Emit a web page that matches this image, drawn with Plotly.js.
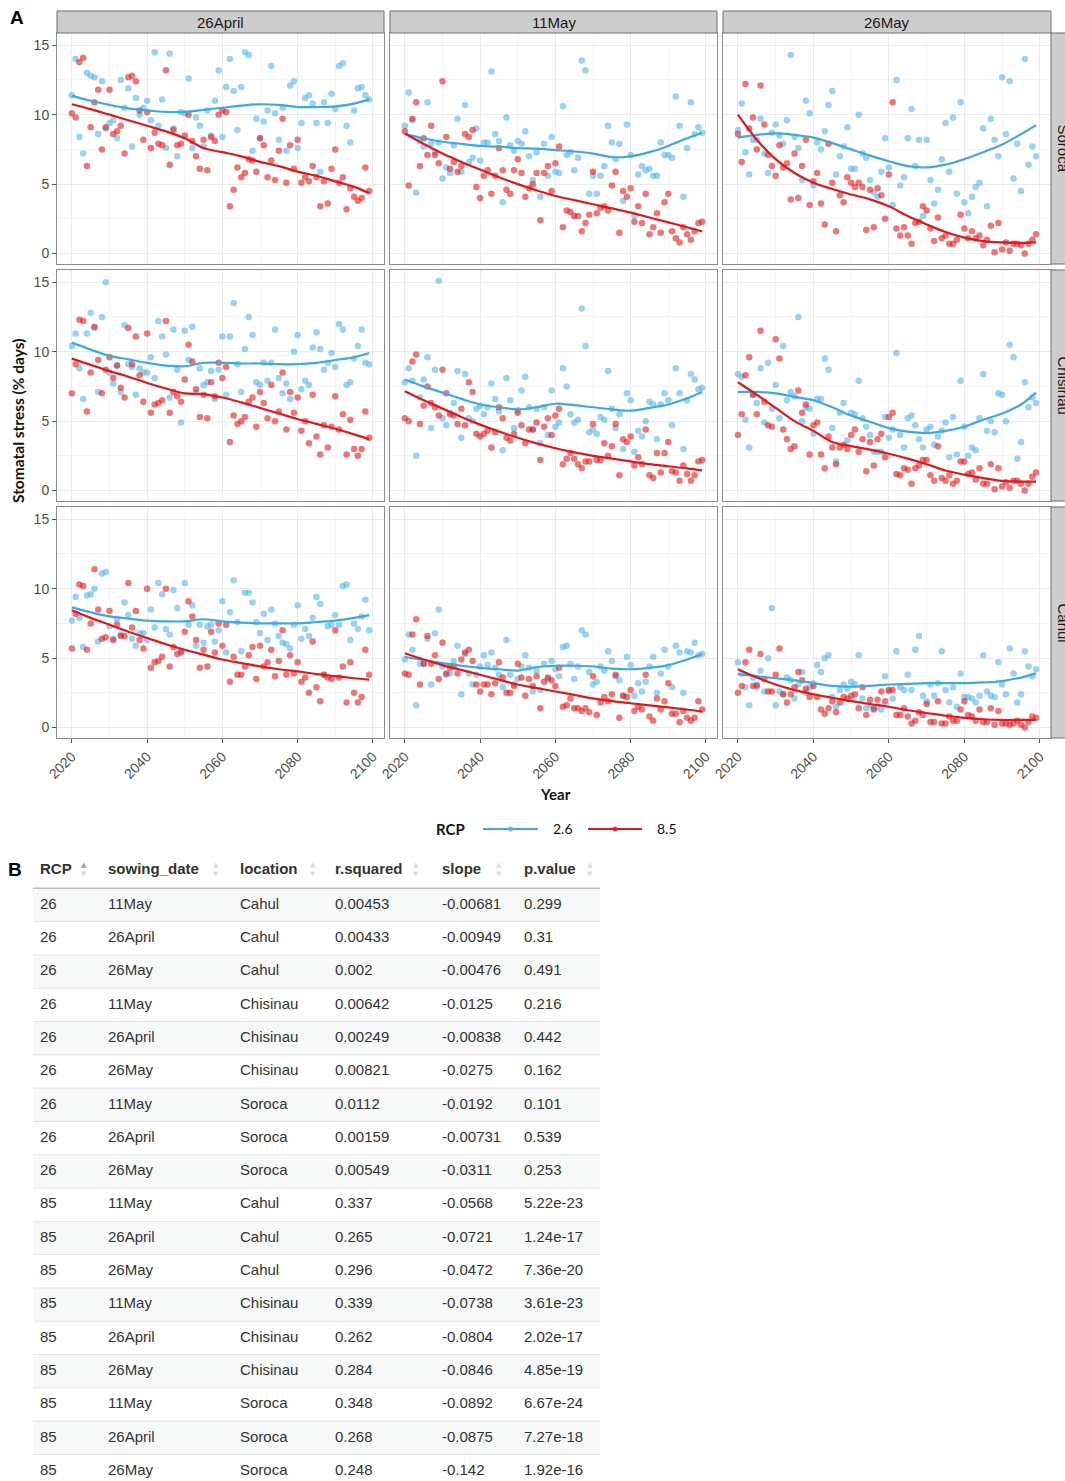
<!DOCTYPE html>
<html><head><meta charset="utf-8">
<script src="https://cdn.plot.ly/plotly-3.0.1.min.js"></script>
<style>body{margin:0;padding:0;background:#fff}#chart{width:1065px;height:1481px}</style>
</head><body><div id="chart"></div>
<script>
// ---------------- DATA ----------------
const years = [2020,2021,2022,2023,2024,2025,2026,2027,2028,2029,2030,2031,2032,2033,2034,2035,2036,2037,2038,2039,
2040,2041,2042,2043,2044,2045,2046,2047,2048,2049,2050,2051,2052,2053,2054,2055,2056,2057,2058,2059,
2060,2061,2062,2063,2064,2065,2066,2067,2068,2069,2070,2071,2072,2073,2074,2075,2076,2077,2078,2079,
2080,2081,2082,2083,2084,2085,2086,2087,2088,2089,2090,2091,2092,2093,2094,2095,2096,2097,2098,2099];
const smoothYears = [2020,2025,2030,2035,2040,2045,2050,2055,2060,2065,2070,2075,2080,2085,2090,2095,2099];
const sowingDates = ['26April','11May','26May'];
const locations = ['Soroca','Chisinau','Cahul'];
const rcpLabels = ['2.6','8.5'];

// Soroca
const soroca_26April_rcp26 = [11.4,14.0,8.4,7.2,13.0,12.8,12.7,8.6,12.4,9.0,9.4,9.6,8.3,12.5,10.5,11.9,7.7,11.2,10.0,10.5,
11.0,9.6,14.5,9.2,11.1,7.6,14.4,9.0,7.0,10.2,10.1,12.6,7.6,9.8,9.2,7.7,10.3,8.5,11.0,13.2,
8.4,12.0,14.0,11.7,8.9,12.0,14.5,14.3,7.4,9.7,8.3,9.5,10.3,13.5,10.1,8.2,10.5,7.4,12.1,12.4,
7.6,9.4,11.2,11.4,10.8,9.4,5.9,10.9,9.4,11.5,10.4,13.5,13.7,9.2,8.0,10.3,11.9,12.0,11.4,11.1];
const soroca_26April_rcp85 = [10.1,9.8,13.8,14.1,6.3,9.1,10.9,11.8,7.5,9.1,11.8,8.6,8.8,9.2,7.2,12.7,12.8,12.4,10.3,8.2,
10.2,7.6,8.7,7.9,7.8,13.2,6.4,8.9,7.8,7.9,8.5,10.0,8.1,7.0,6.1,8.2,6.0,8.4,8.1,10.0,
10.3,10.2,3.4,4.6,6.2,5.5,5.8,6.8,6.7,5.9,8.3,7.8,5.5,6.7,5.3,7.4,9.7,5.1,7.8,6.1,
8.2,5.1,5.5,5.2,6.3,5.5,3.4,5.2,3.6,6.1,7.5,5.1,5.5,3.2,4.7,4.1,3.8,4.0,6.2,4.5];
const soroca_11May_rcp26 = [9.2,11.6,9.6,4.4,8.1,7.7,10.9,7.9,7.3,8.0,5.4,6.2,5.8,7.8,9.7,5.9,10.7,6.6,6.9,9.0,
6.7,8.0,8.0,13.1,8.6,8.1,3.7,9.8,7.8,7.4,8.1,7.9,8.8,7.0,5.3,7.3,4.1,7.9,5.6,8.4,
5.9,5.8,10.6,7.1,7.3,6.0,6.9,13.9,13.2,4.3,5.6,4.3,5.6,6.3,9.2,8.0,6.8,7.9,3.8,9.3,
7.1,2.7,5.7,6.3,6.0,6.1,5.6,5.6,8.0,7.1,7.1,6.9,11.3,9.2,4.1,7.6,10.9,8.6,9.1,8.7];
const soroca_11May_rcp85 = [8.8,4.9,9.7,10.9,6.3,8.3,7.1,9.2,7.1,6.5,12.4,8.4,6.1,6.6,5.9,6.3,8.6,8.4,8.9,4.8,
4.0,5.6,6.0,4.3,5.6,7.6,6.0,4.6,4.3,6.0,6.8,5.8,4.1,4.7,5.0,5.8,2.4,5.8,6.3,4.5,
6.5,7.7,1.9,3.1,3.0,2.7,2.7,1.6,2.2,2.8,5.9,2.9,3.3,3.4,3.1,4.9,5.9,1.5,4.5,4.1,
4.7,2.3,3.4,2.2,4.3,1.4,1.9,2.9,1.5,3.7,4.3,1.6,1.1,0.8,1.9,1.4,1.0,1.6,2.2,2.3];
const soroca_26May_rcp26 = [8.9,10.8,7.3,5.7,8.2,8.2,9.7,7.2,5.8,8.7,9.3,8.5,7.9,9.6,14.3,8.4,7.6,5.3,11.0,10.1,
4.9,8.0,7.5,8.8,10.7,11.7,5.7,7.0,7.7,9.1,6.1,6.1,10.0,7.2,6.9,5.3,4.4,4.1,5.9,8.3,
6.2,3.5,12.5,4.9,5.5,8.3,10.4,6.3,8.2,2.7,8.2,5.3,3.6,4.6,6.8,9.4,5.9,9.8,4.3,10.9,
3.7,2.9,4.1,4.8,5.1,9.0,3.4,9.7,8.2,7.0,12.7,8.6,12.4,5.4,7.9,4.5,14.0,6.4,7.7,7.0];
const soroca_26May_rcp85 = [8.6,6.6,12.2,9.0,9.8,7.5,12.1,9.3,7.1,6.3,5.6,7.8,6.2,6.5,3.9,7.2,4.0,6.3,8.2,3.5,
5.2,5.8,3.6,2.1,7.9,5.1,1.6,4.2,3.7,5.5,5.1,4.8,5.1,4.8,1.7,4.6,1.9,4.7,4.2,2.5,
5.7,10.9,1.8,1.3,1.9,1.3,0.7,2.2,2.3,3.4,3.1,1.8,0.9,2.6,1.1,1.3,0.7,0.7,1.0,2.8,
1.8,1.1,1.6,1.1,1.3,0.6,1.0,2.0,0.1,2.2,0.3,0.8,0.2,0.7,0.7,0.6,0.0,0.7,1.0,1.4];
// Chisinau
const chisinau_26April_rcp26 = [10.4,11.3,8.8,6.6,11.3,12.8,11.7,7.1,12.5,15.0,8.5,7.7,9.0,7.1,11.9,9.1,8.9,6.9,8.8,8.5,
8.5,9.6,8.1,12.2,11.1,9.8,6.7,11.6,8.7,4.9,11.5,9.4,11.8,7.0,8.8,7.6,7.8,8.6,6.6,8.7,
11.1,6.9,11.1,13.5,9.1,7.1,10.2,12.5,11.2,7.8,7.6,9.2,7.9,9.2,11.6,8.1,7.0,7.7,6.6,10.0,
11.2,7.3,7.9,7.6,10.3,11.4,10.2,8.7,9.2,9.9,8.9,12.0,11.6,7.6,7.8,9.5,10.4,11.6,9.2,9.1];
const chisinau_26April_rcp85 = [7.0,9.1,12.3,12.2,5.7,8.5,11.8,9.4,7.0,8.7,9.6,8.1,9.0,7.4,6.7,11.7,9.1,11.1,8.3,6.4,
11.3,5.6,6.2,6.3,6.5,12.2,5.6,7.1,6.8,6.4,8.0,10.5,9.3,7.3,5.3,6.9,5.2,7.8,6.8,9.2,
8.1,8.9,3.5,5.4,4.8,5.0,5.3,6.4,6.7,4.6,7.1,6.3,5.2,7.6,5.0,5.7,8.5,4.4,7.1,5.6,
6.7,4.3,5.0,3.4,6.9,3.9,2.6,4.7,3.1,4.6,6.8,4.4,5.5,2.6,5.1,3.0,2.5,3.0,5.7,3.8];
const chisinau_11May_rcp26 = [7.8,8.8,7.9,2.5,6.7,8.0,9.6,4.5,8.7,15.1,5.2,4.7,5.6,6.3,8.6,3.8,8.4,5.2,5.0,5.9,
6.1,5.5,6.0,7.7,6.6,5.7,2.9,8.1,6.5,4.5,5.8,7.2,8.2,6.0,4.4,5.9,3.4,6.0,4.0,7.2,
4.6,4.9,8.8,7.5,5.5,4.9,5.1,13.1,10.4,4.2,4.4,4.1,5.3,5.1,8.6,5.9,4.5,5.5,3.0,7.0,
6.5,2.8,4.3,3.9,5.0,6.4,6.2,3.7,6.2,7.0,6.5,4.7,8.8,7.0,3.0,6.5,8.4,8.0,7.3,7.4];
const chisinau_11May_rcp85 = [5.2,5.0,9.3,9.8,4.8,6.1,7.5,6.3,6.0,5.4,8.7,7.0,5.5,5.4,4.8,5.9,4.7,7.8,7.1,4.1,
3.9,4.1,4.3,3.1,4.2,6.0,5.2,3.8,3.6,4.1,5.6,4.7,3.4,4.4,4.4,4.9,2.2,4.6,5.2,4.0,
5.4,5.9,1.9,2.3,2.7,2.3,1.9,1.6,2.1,2.1,4.8,2.2,2.2,3.4,2.5,3.2,4.8,1.1,3.7,3.5,
3.9,1.8,2.4,1.9,4.4,1.1,0.9,2.7,1.3,2.7,3.5,1.4,1.3,0.7,1.8,1.2,0.7,1.1,2.1,2.2];
const chisinau_26May_rcp26 = [8.4,8.2,5.1,3.1,6.9,6.3,8.8,4.9,9.2,5.9,7.6,5.2,10.4,6.5,7.1,6.8,12.5,5.0,6.0,5.9,
4.1,6.6,6.6,9.5,8.7,4.5,2.1,5.6,6.3,3.6,5.6,5.5,7.9,5.2,4.6,4.0,2.8,2.8,2.8,5.3,
3.8,4.4,9.9,4.0,3.1,5.2,5.4,4.7,3.7,3.1,4.4,4.6,3.3,3.9,4.3,4.9,2.4,5.3,2.6,7.9,
4.6,2.5,3.1,2.9,5.2,8.4,4.3,5.0,4.2,7.0,6.9,5.0,10.5,9.6,2.3,3.5,7.8,6.0,6.7,6.3];
const chisinau_26May_rcp85 = [4.0,5.5,8.3,9.6,6.9,5.5,11.5,6.4,4.7,4.6,10.9,9.5,4.4,3.7,3.0,3.2,7.2,5.6,6.2,2.6,
4.7,4.9,2.6,1.6,3.9,3.1,1.9,3.1,3.3,3.0,4.0,4.4,2.8,3.7,1.4,3.5,1.8,3.7,4.1,2.4,
5.3,5.6,1.2,1.1,1.6,1.5,0.5,1.6,1.8,2.2,2.2,1.1,0.7,3.2,0.9,0.7,1.1,0.5,0.7,2.1,
2.1,1.2,1.3,0.8,1.6,0.5,0.5,1.9,0.1,1.6,0.3,0.6,0.2,0.7,0.7,0.5,0.0,0.5,1.0,1.3];
// Cahul
const cahul_26April_rcp26 = [7.7,9.4,7.9,5.8,9.5,9.6,10.0,6.2,11.1,11.2,7.3,6.4,7.8,6.7,9.0,8.1,6.4,5.9,6.8,6.8,
6.3,8.5,7.2,10.4,9.6,7.1,6.7,9.9,8.6,5.5,10.4,7.4,8.8,5.9,7.4,6.1,7.3,7.4,6.2,7.0,
9.1,5.4,8.3,10.6,7.6,5.5,9.7,9.7,9.0,7.6,6.8,8.2,6.3,8.5,7.5,6.6,6.1,6.0,5.7,7.4,
8.8,6.4,7.1,6.6,7.9,9.4,8.9,3.8,7.3,7.4,8.1,7.4,10.2,10.3,6.3,7.5,7.1,8.0,9.2,7.0];
const cahul_26April_rcp85 = [5.7,8.2,10.3,10.2,5.6,7.5,11.4,8.5,6.4,6.5,8.4,6.3,7.4,6.6,6.6,10.4,7.2,8.4,6.3,5.7,
10.0,4.3,4.7,4.8,5.1,10.0,4.4,5.8,5.3,5.4,6.9,9.1,8.0,6.3,4.3,5.6,4.4,6.9,5.4,7.5,
5.9,7.4,3.3,5.1,3.8,3.8,4.4,5.2,5.8,3.5,5.9,4.4,4.7,5.6,3.7,4.8,7.0,3.8,5.2,3.9,
4.7,3.3,3.6,2.5,6.2,2.9,1.9,3.8,3.6,3.5,7.0,3.6,4.4,1.8,4.7,2.5,1.8,2.2,5.6,3.8];
const cahul_11May_rcp26 = [4.9,6.7,5.6,1.6,4.6,4.6,6.4,3.1,6.8,8.5,4.4,3.8,3.9,4.8,5.9,2.4,5.3,3.9,3.1,3.8,
4.4,5.2,4.5,5.4,4.3,3.8,2.9,6.3,3.8,3.1,3.5,4.4,5.2,4.3,2.6,4.1,2.7,4.6,3.5,4.8,
4.2,3.7,5.8,5.9,4.6,3.5,4.4,7.0,6.7,4.0,3.1,3.3,4.4,4.1,5.5,4.8,3.7,3.4,2.3,5.1,
4.5,2.3,3.2,2.6,3.3,4.4,5.1,2.5,3.9,5.6,4.4,2.9,5.9,5.4,2.5,5.5,5.4,6.1,5.2,5.3];
const cahul_11May_rcp85 = [3.9,3.8,6.7,7.8,3.1,4.6,6.6,4.6,5.2,3.5,6.1,3.9,4.3,4.4,3.9,4.9,5.4,5.6,4.8,3.1,
2.6,3.1,3.1,2.4,3.2,4.7,3.6,2.5,2.5,3.0,4.6,3.6,2.3,3.5,3.0,3.7,1.4,3.3,3.6,3.4,
3.0,4.3,1.5,1.6,2.1,1.4,1.4,1.2,1.4,1.1,3.7,0.9,1.8,2.2,1.9,2.4,3.8,0.7,2.3,2.2,
2.7,1.2,1.5,1.3,3.8,0.8,0.5,2.1,1.3,1.9,3.2,1.0,1.0,0.4,1.2,0.7,0.5,0.7,1.9,1.3];
const cahul_26May_rcp26 = [4.7,3.9,2.9,1.6,3.6,3.1,4.1,2.6,5.0,8.6,1.6,2.6,2.4,3.6,3.4,2.1,3.1,4.0,2.5,2.9,
3.2,4.5,4.0,5.0,5.2,2.2,1.5,2.7,3.1,2.8,3.3,3.1,5.2,2.1,1.4,1.6,1.4,1.5,1.3,3.7,
2.6,2.1,5.5,2.9,2.7,3.8,2.7,5.6,6.6,2.3,1.9,3.1,2.3,3.2,5.5,2.7,1.8,2.9,1.5,3.9,
2.2,2.2,2.1,1.8,2.3,5.2,2.6,2.3,2.2,4.7,3.1,2.4,5.7,3.9,1.8,2.4,5.5,4.4,3.7,4.2];
const cahul_26May_rcp85 = [2.5,3.0,4.7,5.6,3.0,3.0,5.3,3.5,2.6,2.6,3.8,5.7,2.4,1.8,2.4,2.9,4.0,3.4,2.8,2.2,
3.0,2.2,1.3,1.0,1.4,1.9,1.1,1.8,2.2,2.1,2.3,2.4,1.4,2.9,0.9,2.0,1.3,2.0,2.6,1.9,
2.7,2.7,0.9,0.9,1.4,0.8,0.3,0.5,1.1,0.9,1.7,0.4,0.4,1.9,0.3,0.3,0.8,0.5,0.5,1.3,
1.9,0.9,0.8,0.5,1.3,0.4,0.4,1.4,0.2,1.2,0.3,0.3,0.2,0.3,0.5,0.2,0.0,0.4,0.8,0.7];

// Smoothed (loess) curves read at smoothYears
const soroca_26April_fit26 = [11.35,11.0,10.7,10.45,10.3,10.2,10.2,10.35,10.5,10.65,10.75,10.7,10.55,10.55,10.6,10.8,11.1];
const soroca_26April_fit85 = [10.75,10.4,10.0,9.6,9.2,8.8,8.3,7.6,7.3,7.0,6.6,6.3,5.9,5.6,5.2,4.8,4.35];
const soroca_11May_fit26 = [8.6,8.3,8.05,7.9,7.75,7.7,7.6,7.55,7.45,7.35,7.2,6.95,7.0,7.3,7.75,8.3,8.7];
const soroca_11May_fit85 = [8.65,7.9,7.2,6.6,6.05,5.5,5.0,4.55,4.15,3.85,3.55,3.25,2.95,2.6,2.25,1.9,1.6];
const soroca_26May_fit26 = [8.35,8.55,8.65,8.55,8.35,7.95,7.5,7.05,6.65,6.3,6.2,6.4,6.8,7.3,7.85,8.6,9.25];
const soroca_26May_fit85 = [10.0,8.2,6.8,5.8,5.1,4.65,4.25,3.9,3.4,2.7,2.1,1.55,1.15,0.9,0.8,0.77,0.8];
const chisinau_26April_fit26 = [10.65,10.15,9.7,9.45,9.2,9.0,8.95,9.2,9.2,9.15,9.15,9.1,9.1,9.2,9.4,9.6,9.9];
const chisinau_26April_fit85 = [9.5,9.05,8.6,8.2,7.75,7.35,7.0,6.95,6.7,6.35,5.95,5.55,5.15,4.8,4.45,4.05,3.7];
const chisinau_11May_fit26 = [8.0,7.5,7.05,6.6,6.2,6.0,5.85,6.0,6.25,6.15,6.0,5.85,5.75,5.95,6.2,6.65,7.1];
const chisinau_11May_fit85 = [7.15,6.5,5.9,5.3,4.75,4.25,3.8,3.4,3.05,2.75,2.5,2.3,2.1,1.9,1.75,1.6,1.45];
const chisinau_26May_fit26 = [7.1,7.1,7.0,6.75,6.5,6.0,5.4,4.95,4.5,4.25,4.15,4.3,4.6,5.1,5.55,6.2,7.05];
const chisinau_26May_fit85 = [7.8,6.9,5.95,5.0,4.3,3.5,3.2,2.95,2.65,2.3,1.9,1.45,1.15,0.9,0.7,0.65,0.65];
const cahul_26April_fit26 = [8.65,8.3,8.0,7.85,7.7,7.65,7.65,7.8,7.65,7.55,7.5,7.5,7.5,7.6,7.7,7.9,8.1];
const cahul_26April_fit85 = [8.45,7.9,7.4,6.9,6.45,6.0,5.6,5.25,4.9,4.65,4.4,4.2,4.05,3.85,3.7,3.55,3.45];
const cahul_11May_fit26 = [5.1,4.85,4.65,4.45,4.3,4.2,4.1,4.35,4.45,4.45,4.4,4.25,4.2,4.3,4.5,4.9,5.3];
const cahul_11May_fit85 = [5.35,4.9,4.5,4.15,3.8,3.45,3.1,2.85,2.6,2.35,2.1,1.9,1.75,1.6,1.45,1.3,1.15];
const cahul_26May_fit26 = [3.85,3.7,3.55,3.4,3.2,3.0,2.95,3.0,3.1,3.15,3.2,3.2,3.2,3.25,3.35,3.6,3.9];
const cahul_26May_fit85 = [4.2,3.6,3.1,2.7,2.4,2.15,1.9,1.7,1.5,1.25,1.05,0.85,0.7,0.6,0.55,0.55,0.55];

// Table (panel B)
const tblHeaders = ['RCP','sowing_date','location','r.squared','slope','p.value'];
const tblRCP = ['26','26','26','26','26','26','26','26','26','85','85','85','85','85','85','85','85','85'];
const tblSowing = ['11May','26April','26May','11May','26April','26May','11May','26April','26May','11May','26April','26May','11May','26April','26May','11May','26April','26May'];
const tblLocation = ['Cahul','Cahul','Cahul','Chisinau','Chisinau','Chisinau','Soroca','Soroca','Soroca','Cahul','Cahul','Cahul','Chisinau','Chisinau','Chisinau','Soroca','Soroca','Soroca'];
const tblRsq = ['0.00453','0.00433','0.002','0.00642','0.00249','0.00821','0.0112','0.00159','0.00549','0.337','0.265','0.296','0.339','0.262','0.284','0.348','0.268','0.248'];
const tblSlope = ['-0.00681','-0.00949','-0.00476','-0.0125','-0.00838','-0.0275','-0.0192','-0.00731','-0.0311','-0.0568','-0.0721','-0.0472','-0.0738','-0.0804','-0.0846','-0.0892','-0.0875','-0.142'];
const tblP = ['0.299','0.31','0.491','0.216','0.442','0.162','0.101','0.539','0.253','5.22e-23','1.24e-17','7.36e-20','3.61e-23','2.02e-17','4.85e-19','6.67e-24','7.27e-18','1.92e-16'];

// ---------------- LAYOUT / DRAWING ----------------
const W = 1065, H = 1481;
const colPx = [[57,384],[390,717],[723,1051]];
const rowPx = [[33,264],[270,501],[507,738]];
const fy = p => 1 - p / H;
const fx = p => p / W;

const panelData = [
  [[soroca_26April_rcp26,soroca_26April_rcp85,soroca_26April_fit26,soroca_26April_fit85],
   [soroca_11May_rcp26,soroca_11May_rcp85,soroca_11May_fit26,soroca_11May_fit85],
   [soroca_26May_rcp26,soroca_26May_rcp85,soroca_26May_fit26,soroca_26May_fit85]],
  [[chisinau_26April_rcp26,chisinau_26April_rcp85,chisinau_26April_fit26,chisinau_26April_fit85],
   [chisinau_11May_rcp26,chisinau_11May_rcp85,chisinau_11May_fit26,chisinau_11May_fit85],
   [chisinau_26May_rcp26,chisinau_26May_rcp85,chisinau_26May_fit26,chisinau_26May_fit85]],
  [[cahul_26April_rcp26,cahul_26April_rcp85,cahul_26April_fit26,cahul_26April_fit85],
   [cahul_11May_rcp26,cahul_11May_rcp85,cahul_11May_fit26,cahul_11May_fit85],
   [cahul_26May_rcp26,cahul_26May_rcp85,cahul_26May_fit26,cahul_26May_fit85]]
];

const BLUE_PT = 'rgba(86,180,233,0.6)', RED_PT = 'rgba(228,26,28,0.6)';
const BLUE_LN = '#3ea9e1', RED_LN = '#e3161b';
const tickFont = {family:'Liberation Sans, Arial, sans-serif', size:14, color:'#4d4d4d'};
const boldFont = 'Lato, Open Sans, sans-serif';

const traces = [];
const layout = {
  width: W, height: H, autosize: false,
  margin: {l:0, r:0, t:0, b:0, pad:0},
  paper_bgcolor: '#ffffff', plot_bgcolor: 'rgba(0,0,0,0)',
  showlegend: false,
  shapes: [], annotations: []
};

for (let r = 0; r < 3; r++) {
  for (let c = 0; c < 3; c++) {
    const k = r*3 + c + 1;
    const xs = k === 1 ? '' : String(k);
    const d = panelData[r][c];
    layout['xaxis'+xs] = {
      domain:[fx(colPx[c][0]), fx(colPx[c][1])], anchor:'y'+xs,
      range:[2016.05, 2102.95], tickmode:'array', tickvals:[2020,2040,2060,2080,2100],
      showticklabels: r === 2, ticks: r === 2 ? 'outside' : '', ticklen:4, tickcolor:'#555', tickwidth:1,
      tickangle:-45, tickfont: tickFont,
      showgrid:true, gridcolor:'#ebebeb', gridwidth:1,
      minor:{tickmode:'array', tickvals:[2030,2050,2070,2090], showgrid:true, gridcolor:'#f5f5f5', gridwidth:1, ticks:''},
      showline:true, mirror:true, linecolor:'#8c8c8c', linewidth:1, zeroline:false, fixedrange:true
    };
    layout['yaxis'+xs] = {
      domain:[fy(rowPx[r][1]), fy(rowPx[r][0])], anchor:'x'+xs,
      range:[-0.75, 15.88], tickmode:'array', tickvals:[0,5,10,15],
      showticklabels: c === 0, ticks: c === 0 ? 'outside' : '', ticklen:4, tickcolor:'#555', tickwidth:1,
      tickfont: tickFont,
      showgrid:true, gridcolor:'#ebebeb', gridwidth:1,
      minor:{tickmode:'array', tickvals:[2.5,7.5,12.5], showgrid:true, gridcolor:'#f5f5f5', gridwidth:1, ticks:''},
      showline:true, mirror:true, linecolor:'#8c8c8c', linewidth:1, zeroline:false, fixedrange:true
    };
    const ax = {xaxis:'x'+xs, yaxis:'y'+xs};
    traces.push(Object.assign({type:'scatter', mode:'markers', x:years, y:d[0], name:rcpLabels[0], showlegend:false, hoverinfo:'skip',
      marker:{color:BLUE_PT, size:6.5, line:{width:0}}}, ax));
    traces.push(Object.assign({type:'scatter', mode:'markers', x:years, y:d[1], name:rcpLabels[1], showlegend:false, hoverinfo:'skip',
      marker:{color:RED_PT, size:6.5, line:{width:0}}}, ax));
    traces.push(Object.assign({type:'scatter', mode:'lines', x:smoothYears, y:d[2], name:rcpLabels[0], showlegend:false, hoverinfo:'skip',
      line:{color:BLUE_LN, width:2.2, shape:'spline', smoothing:1}}, ax));
    traces.push(Object.assign({type:'scatter', mode:'lines', x:smoothYears, y:d[3], name:rcpLabels[1], showlegend:false, hoverinfo:'skip',
      line:{color:RED_LN, width:2.2, shape:'spline', smoothing:1}}, ax));
  }
}

// strips
for (let c = 0; c < 3; c++) {
  layout.shapes.push({type:'rect', xref:'paper', yref:'paper', x0:fx(colPx[c][0]), x1:fx(colPx[c][1]), y0:fy(33), y1:fy(11),
    fillcolor:'#cdcdcd', line:{color:'#6e6e6e', width:1}});
  layout.annotations.push({xref:'paper', yref:'paper', x:fx((colPx[c][0]+colPx[c][1])/2), y:fy(22), text:sowingDates[c],
    showarrow:false, xanchor:'center', yanchor:'middle', font:{family:'Liberation Sans, Arial, sans-serif', size:15, color:'#1a1a1a'}});
}
for (let r = 0; r < 3; r++) {
  layout.shapes.push({type:'rect', xref:'paper', yref:'paper', x0:fx(1051), x1:fx(1074), y0:fy(rowPx[r][1]), y1:fy(rowPx[r][0]),
    fillcolor:'#cdcdcd', line:{color:'#6e6e6e', width:1}});
  layout.annotations.push({xref:'paper', yref:'paper', x:fx(1063), y:fy((rowPx[r][0]+rowPx[r][1])/2), text:locations[r],
    showarrow:false, textangle:90, xanchor:'center', yanchor:'middle', font:{family:'Liberation Sans, Arial, sans-serif', size:15, color:'#1a1a1a'}});
}

// titles / panel letters
layout.annotations.push({xref:'paper', yref:'paper', x:fx(18), y:fy(421), text:'<b>Stomatal stress (% days)</b>', textangle:-90,
  showarrow:false, xanchor:'center', yanchor:'middle', font:{family:boldFont, size:15.5, color:'#111'}});
layout.annotations.push({xref:'paper', yref:'paper', x:fx(555), y:fy(794), text:'<b>Year</b>',
  showarrow:false, xanchor:'center', yanchor:'middle', font:{family:boldFont, size:15, color:'#111'}});
layout.annotations.push({xref:'paper', yref:'paper', x:fx(17), y:fy(18), text:'<b>A</b>',
  showarrow:false, xanchor:'center', yanchor:'middle', font:{family:'Liberation Sans, Arial, sans-serif', size:19, color:'#000'}});
layout.annotations.push({xref:'paper', yref:'paper', x:fx(15), y:fy(869), text:'<b>B</b>',
  showarrow:false, xanchor:'center', yanchor:'middle', font:{family:'Liberation Sans, Arial, sans-serif', size:19, color:'#000'}});

// legend (RCP) drawn as a guide
const legY = 829;
const legItems = [
  {label:rcpLabels[0], color:BLUE_LN, pt:'rgba(86,180,233,0.85)', x0:483, x1:538, tx:551},
  {label:rcpLabels[1], color:RED_LN, pt:'rgba(228,26,28,0.85)', x0:588, x1:642, tx:655}
];
layout.annotations.push({xref:'paper', yref:'paper', x:fx(434), y:fy(legY), text:'<b>RCP</b>', showarrow:false,
  xanchor:'left', yanchor:'middle', font:{family:boldFont, size:15, color:'#111'}});
legItems.forEach(it => {
  layout.shapes.push({type:'line', xref:'paper', yref:'paper', x0:fx(it.x0), x1:fx(it.x1), y0:fy(legY), y1:fy(legY),
    line:{color:it.color, width:2}});
  const mx = (it.x0 + it.x1) / 2;
  layout.shapes.push({type:'circle', xref:'paper', yref:'paper', x0:fx(mx-2.5), x1:fx(mx+2.5), y0:fy(legY+2.5), y1:fy(legY-2.5),
    fillcolor:it.pt, line:{width:0}});
  layout.annotations.push({xref:'paper', yref:'paper', x:fx(it.tx), y:fy(legY), text:it.label, showarrow:false,
    xanchor:'left', yanchor:'middle', font:{family:boldFont, size:14, color:'#111'}});
});

// ---------------- TABLE (panel B) ----------------
const colX = [40,108,240,335,442,524];
const tblCols = [tblRCP, tblSowing, tblLocation, tblRsq, tblSlope, tblP];
const nRows = tblRCP.length;
const rowIdx = tblRCP.map((_, i) => i);
layout.xaxis10 = {domain:[0,1], range:[0,W], anchor:'y10', visible:false, fixedrange:true};
layout.yaxis10 = {domain:[0, fy(848.4)], range:[17.297,-1.70], anchor:'x10', visible:false, fixedrange:true};
const tblLeft = 33, tblRight = 600;
for (let i = 0; i < nRows; i++) {
  if (i % 2 === 0) layout.shapes.push({type:'rect', xref:'x10', yref:'y10', x0:tblLeft, x1:tblRight, y0:i-0.5, y1:i+0.5,
    fillcolor:'#f7f9f9', line:{width:0}, layer:'below'});
  if (i < nRows - 1) layout.shapes.push({type:'line', xref:'x10', yref:'y10', x0:tblLeft, x1:tblRight, y0:i+0.5, y1:i+0.5,
    line:{color:'#e2e2e2', width:1}});
}
layout.shapes.push({type:'line', xref:'x10', yref:'y10', x0:tblLeft, x1:tblRight, y0:-0.5, y1:-0.5, line:{color:'#bdbdbd', width:1.5}});

for (let j = 0; j < tblCols.length; j++) {
  traces.push({type:'scatter', mode:'text', xaxis:'x10', yaxis:'y10', x:rowIdx.map(() => colX[j]), y:rowIdx,
    text:tblCols[j], textposition:'middle right', cliponaxis:false, showlegend:false, hoverinfo:'skip',
    textfont:{family:'Liberation Sans, Arial, sans-serif', size:15, color:'#333'}});
}
traces.push({type:'scatter', mode:'text', xaxis:'x10', yaxis:'y10', x:colX, y:colX.map(() => -1.05),
  text:tblHeaders.map(h => '<b>'+h+'</b>'), textposition:'middle right', cliponaxis:false, showlegend:false, hoverinfo:'skip',
  textfont:{family:'Liberation Sans, Arial, sans-serif', size:15, color:'#333'}});
// sort arrows
const arrowX = [84,216,313,416,499,590];
for (let j = 0; j < arrowX.length; j++) {
  layout.annotations.push({xref:'x10', yref:'y10', x:arrowX[j], y:-1.19, text:'▲', showarrow:false,
    font:{family:'DejaVu Sans', size:7, color: j === 0 ? '#9a9a9a' : '#dcdcdc'}});
  layout.annotations.push({xref:'x10', yref:'y10', x:arrowX[j], y:-0.93, text:'▼', showarrow:false,
    font:{family:'DejaVu Sans', size:7, color:'#dcdcdc'}});
}

Plotly.newPlot('chart', traces, layout, {displayModeBar:false, staticPlot:true});
</script></body></html>
